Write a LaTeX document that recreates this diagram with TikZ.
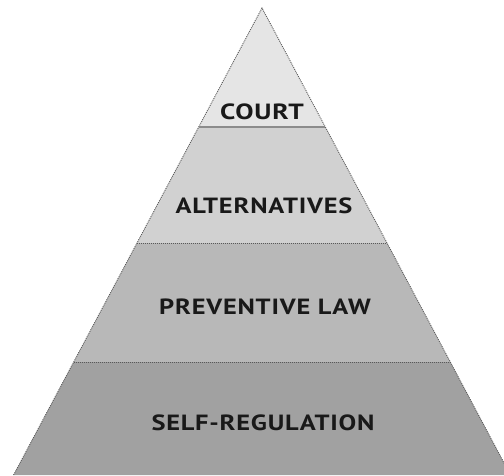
\documentclass[tikz,border=0pt]{standalone}
\usepackage{fontspec}
\setmainfont{PT Sans}
\begin{document}
\begin{tikzpicture}[x=1pt,y=1pt,
  band/.style={draw=black!65, line width=0.9pt, dash pattern=on 1pt off 1pt},
  lbl/.style={font=\bfseries\fontsize{22}{22}\selectfont\addfontfeatures{LetterSpace=3}, text=black!90, inner sep=0pt}]
\useasboundingbox (0,0) rectangle (504,475);
\begin{scope}
\clip (0,0) rectangle (504,475);
% apex and band corners
\coordinate (A) at (262,467);
\coordinate (c1l) at (198.7,348); \coordinate (c1r) at (325.3,348);
\coordinate (c2l) at (137,232);   \coordinate (c2r) at (387,232);
\coordinate (c3l) at (73.7,113);  \coordinate (c3r) at (450.3,113);
\coordinate (c4l) at (13.6,0);    \coordinate (c4r) at (510.4,0);
\fill[fill=black!10] (A) -- (c1r) -- (c1l) -- cycle;
\fill[fill=black!18] (c1l) -- (c1r) -- (c2r) -- (c2l) -- cycle;
\fill[fill=black!28] (c2l) -- (c2r) -- (c3r) -- (c3l) -- cycle;
\fill[fill=black!37] (c3l) -- (c3r) -- (c4r) -- (c4l) -- cycle;
\draw[band] (c4l) -- (A) -- (c4r);
\draw[black!45, line width=1.4pt] (c1l) -- (c1r);
\draw[band] (c2l) -- (c2r);
\draw[band] (c3l) -- (c3r);
\end{scope}
\node[lbl] (court) at (262,363) {\scalebox{1.24}[1]{COURT}};
\node[lbl] (alt) at (264,269) {\scalebox{1.2}[1]{ALTERNATIVES}};
\node[lbl] (prev) at (265,168) {\scalebox{1.2}[1]{PREVENTIVE LAW}};
\node[lbl] (self) at (263,52) {\scalebox{1.2}[1]{SELF-REGULATION}};
\end{tikzpicture}
\end{document}
